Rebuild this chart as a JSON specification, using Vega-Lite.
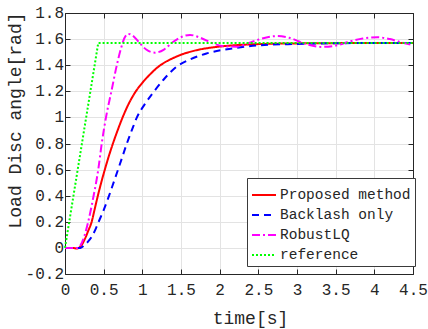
{
  "$schema": "https://vega.github.io/schema/vega-lite/v6.json",
  "width": 348,
  "height": 261,
  "autosize": {"type": "none"},
  "padding": {"left": 65, "top": 13, "right": 15, "bottom": 55},
  "config": {
    "view": {"stroke": "#262626", "strokeWidth": 1},
    "font": "Liberation Mono",
    "axis": {
      "tickSize": -5,
      "tickColor": "#262626",
      "domainColor": "#262626",
      "gridColor": "#e3e3e3",
      "labelFont": "Liberation Mono",
      "labelFontSize": 16,
      "labelColor": "#262626",
      "labelFlush": false,
      "labelOverlap": false,
      "titleFont": "Liberation Mono",
      "titleFontSize": 18,
      "titleFontWeight": "normal",
      "titleColor": "#262626"
    }
  },
  "datasets": {
    "curves": [
      {"s": "Proposed method", "t": 0, "v": 0},
      {"s": "Proposed method", "t": 0.1, "v": 0},
      {"s": "Proposed method", "t": 0.15, "v": -0.004},
      {"s": "Proposed method", "t": 0.2, "v": 0.01},
      {"s": "Proposed method", "t": 0.25, "v": 0.06},
      {"s": "Proposed method", "t": 0.3, "v": 0.13},
      {"s": "Proposed method", "t": 0.345, "v": 0.2},
      {"s": "Proposed method", "t": 0.385, "v": 0.3},
      {"s": "Proposed method", "t": 0.425, "v": 0.4},
      {"s": "Proposed method", "t": 0.468, "v": 0.5},
      {"s": "Proposed method", "t": 0.515, "v": 0.6},
      {"s": "Proposed method", "t": 0.565, "v": 0.7},
      {"s": "Proposed method", "t": 0.62, "v": 0.8},
      {"s": "Proposed method", "t": 0.68, "v": 0.9},
      {"s": "Proposed method", "t": 0.745, "v": 1.0},
      {"s": "Proposed method", "t": 0.82, "v": 1.1},
      {"s": "Proposed method", "t": 0.905, "v": 1.19},
      {"s": "Proposed method", "t": 1.0, "v": 1.265},
      {"s": "Proposed method", "t": 1.1, "v": 1.33},
      {"s": "Proposed method", "t": 1.2, "v": 1.385},
      {"s": "Proposed method", "t": 1.3, "v": 1.425},
      {"s": "Proposed method", "t": 1.4, "v": 1.455},
      {"s": "Proposed method", "t": 1.5, "v": 1.48},
      {"s": "Proposed method", "t": 1.7, "v": 1.515},
      {"s": "Proposed method", "t": 1.96, "v": 1.54},
      {"s": "Proposed method", "t": 2.2, "v": 1.553},
      {"s": "Proposed method", "t": 2.52, "v": 1.562},
      {"s": "Proposed method", "t": 3.0, "v": 1.567},
      {"s": "Proposed method", "t": 3.5, "v": 1.569},
      {"s": "Proposed method", "t": 4.0, "v": 1.57},
      {"s": "Proposed method", "t": 4.5, "v": 1.57},
      {"s": "Backlash only", "t": 0, "v": 0},
      {"s": "Backlash only", "t": 0.1, "v": 0},
      {"s": "Backlash only", "t": 0.2, "v": 0},
      {"s": "Backlash only", "t": 0.25, "v": 0.02},
      {"s": "Backlash only", "t": 0.3, "v": 0.05},
      {"s": "Backlash only", "t": 0.35, "v": 0.09},
      {"s": "Backlash only", "t": 0.4, "v": 0.15},
      {"s": "Backlash only", "t": 0.435, "v": 0.2},
      {"s": "Backlash only", "t": 0.5, "v": 0.29},
      {"s": "Backlash only", "t": 0.57, "v": 0.4},
      {"s": "Backlash only", "t": 0.628, "v": 0.5},
      {"s": "Backlash only", "t": 0.686, "v": 0.6},
      {"s": "Backlash only", "t": 0.743, "v": 0.7},
      {"s": "Backlash only", "t": 0.8, "v": 0.8},
      {"s": "Backlash only", "t": 0.863, "v": 0.9},
      {"s": "Backlash only", "t": 0.93, "v": 1.0},
      {"s": "Backlash only", "t": 1.03, "v": 1.1},
      {"s": "Backlash only", "t": 1.14, "v": 1.19},
      {"s": "Backlash only", "t": 1.29, "v": 1.3},
      {"s": "Backlash only", "t": 1.445, "v": 1.39},
      {"s": "Backlash only", "t": 1.6, "v": 1.44},
      {"s": "Backlash only", "t": 1.83, "v": 1.49},
      {"s": "Backlash only", "t": 2.17, "v": 1.529},
      {"s": "Backlash only", "t": 2.49, "v": 1.552},
      {"s": "Backlash only", "t": 3.0, "v": 1.563},
      {"s": "Backlash only", "t": 3.5, "v": 1.568},
      {"s": "Backlash only", "t": 4.0, "v": 1.57},
      {"s": "Backlash only", "t": 4.5, "v": 1.57},
      {"s": "RobustLQ", "t": 0, "v": 0},
      {"s": "RobustLQ", "t": 0.1, "v": 0},
      {"s": "RobustLQ", "t": 0.17, "v": 0},
      {"s": "RobustLQ", "t": 0.2, "v": 0.02},
      {"s": "RobustLQ", "t": 0.25, "v": 0.09},
      {"s": "RobustLQ", "t": 0.3, "v": 0.2},
      {"s": "RobustLQ", "t": 0.37, "v": 0.4},
      {"s": "RobustLQ", "t": 0.43, "v": 0.6},
      {"s": "RobustLQ", "t": 0.475, "v": 0.8},
      {"s": "RobustLQ", "t": 0.53, "v": 1.0},
      {"s": "RobustLQ", "t": 0.6, "v": 1.2},
      {"s": "RobustLQ", "t": 0.67, "v": 1.4},
      {"s": "RobustLQ", "t": 0.72, "v": 1.52},
      {"s": "RobustLQ", "t": 0.77, "v": 1.61},
      {"s": "RobustLQ", "t": 0.82, "v": 1.64},
      {"s": "RobustLQ", "t": 0.88, "v": 1.625},
      {"s": "RobustLQ", "t": 0.95, "v": 1.58},
      {"s": "RobustLQ", "t": 1.05, "v": 1.52},
      {"s": "RobustLQ", "t": 1.164, "v": 1.496},
      {"s": "RobustLQ", "t": 1.28, "v": 1.52},
      {"s": "RobustLQ", "t": 1.4, "v": 1.58},
      {"s": "RobustLQ", "t": 1.5, "v": 1.615},
      {"s": "RobustLQ", "t": 1.617, "v": 1.632},
      {"s": "RobustLQ", "t": 1.75, "v": 1.61},
      {"s": "RobustLQ", "t": 1.9, "v": 1.57},
      {"s": "RobustLQ", "t": 2.05, "v": 1.545},
      {"s": "RobustLQ", "t": 2.22, "v": 1.542},
      {"s": "RobustLQ", "t": 2.4, "v": 1.575},
      {"s": "RobustLQ", "t": 2.55, "v": 1.605},
      {"s": "RobustLQ", "t": 2.74, "v": 1.623},
      {"s": "RobustLQ", "t": 2.9, "v": 1.61},
      {"s": "RobustLQ", "t": 3.1, "v": 1.565},
      {"s": "RobustLQ", "t": 3.31, "v": 1.54},
      {"s": "RobustLQ", "t": 3.5, "v": 1.55},
      {"s": "RobustLQ", "t": 3.7, "v": 1.585},
      {"s": "RobustLQ", "t": 3.85, "v": 1.605},
      {"s": "RobustLQ", "t": 4.04, "v": 1.614},
      {"s": "RobustLQ", "t": 4.2, "v": 1.6},
      {"s": "RobustLQ", "t": 4.35, "v": 1.575},
      {"s": "RobustLQ", "t": 4.5, "v": 1.554},
      {"s": "reference", "t": 0, "v": 0},
      {"s": "reference", "t": 0.43, "v": 1.5708},
      {"s": "reference", "t": 4.5, "v": 1.5708}
    ],
    "yticks": [
      {"yv": -0.2, "lab": "-0.2"},
      {"yv": 0, "lab": "0"},
      {"yv": 0.2, "lab": "0.2"},
      {"yv": 0.4, "lab": "0.4"},
      {"yv": 0.6, "lab": "0.6"},
      {"yv": 0.8, "lab": "0.8"},
      {"yv": 1, "lab": "1"},
      {"yv": 1.2, "lab": "1.2"},
      {"yv": 1.4, "lab": "1.4"},
      {"yv": 1.6, "lab": "1.6"},
      {"yv": 1.8, "lab": "1.8"}
    ]
  },
  "layer": [
    {
      "data": {"name": "curves"},
      "transform": [{"filter": "datum.s !== 'reference'"}],
      "mark": {"type": "line", "interpolate": "monotone", "strokeWidth": 2},
      "encoding": {
        "x": {
          "field": "t", "type": "quantitative",
          "scale": {"domain": [0, 4.5], "nice": false, "zero": false},
          "axis": {
            "orient": "bottom",
            "values": [0, 0.5, 1, 1.5, 2, 2.5, 3, 3.5, 4, 4.5],
            "format": "~g",
            "labelPadding": 12,
            "labelOverlap": false,
            "title": "time[s]",
            "titleX": 185, "titleY": 49,
            "titleAlign": "center", "titleBaseline": "alphabetic",
            "grid": true
          }
        },
        "y": {
          "field": "v", "type": "quantitative",
          "scale": {"domain": [-0.2, 1.8], "nice": false, "zero": false},
          "axis": {
            "orient": "left",
            "values": [-0.2, 0, 0.2, 0.4, 0.6, 0.8, 1, 1.2, 1.4, 1.6, 1.8],
            "labels": false,
            "title": "Load Disc angle[rad]",
            "titleX": -45, "titleY": 107,
            "titleAngle": -90,
            "titleAlign": "center", "titleBaseline": "alphabetic",
            "grid": true
          }
        },
        "color": {
          "field": "s", "type": "nominal",
          "scale": {"domain": ["Proposed method", "Backlash only", "RobustLQ", "reference"], "range": ["#ff0000", "#0000ff", "#ff00ff", "#00ff00"]},
          "legend": {
            "title": null, "orient": "none", "legendX": 182, "legendY": 165,
            "fillColor": "#ffffff", "strokeColor": "#3a3a3a", "padding": 4,
            "symbolType": "stroke", "symbolSize": 576, "symbolStrokeWidth": 2,
            "labelFont": "Liberation Mono", "labelFontSize": 14.5, "labelColor": "#262626",
            "rowPadding": -3, "labelOffset": 3
          }
        },
        "strokeDash": {
          "field": "s", "type": "nominal",
          "scale": {"domain": ["Proposed method", "Backlash only", "RobustLQ", "reference"], "range": [[1, 0], [7, 5], [8, 3, 2, 3], [2, 2]]},
          "legend": {
            "title": null, "orient": "none", "legendX": 182, "legendY": 165,
            "fillColor": "#ffffff", "strokeColor": "#3a3a3a", "padding": 4,
            "symbolType": "stroke", "symbolSize": 576, "symbolStrokeWidth": 2,
            "labelFont": "Liberation Mono", "labelFontSize": 14.5, "labelColor": "#262626",
            "rowPadding": -3, "labelOffset": 3
          }
        }
      }
    },
    {
      "data": {"name": "curves"},
      "transform": [{"filter": "datum.s === 'reference'"}],
      "mark": {"type": "line", "strokeWidth": 2},
      "encoding": {
        "x": {
          "field": "t", "type": "quantitative",
          "scale": {"domain": [0, 4.5], "nice": false, "zero": false},
          "axis": {
            "orient": "top",
            "values": [0, 0.5, 1, 1.5, 2, 2.5, 3, 3.5, 4, 4.5],
            "labels": false, "title": null, "grid": false
          }
        },
        "y": {
          "field": "v", "type": "quantitative",
          "scale": {"domain": [-0.2, 1.8], "nice": false, "zero": false},
          "axis": {
            "orient": "right",
            "values": [-0.2, 0, 0.2, 0.4, 0.6, 0.8, 1, 1.2, 1.4, 1.6, 1.8],
            "labels": false, "title": null, "grid": false
          }
        },
        "color": {
          "field": "s", "type": "nominal",
          "scale": {"domain": ["Proposed method", "Backlash only", "RobustLQ", "reference"], "range": ["#ff0000", "#0000ff", "#ff00ff", "#00ff00"]}
        },
        "strokeDash": {
          "field": "s", "type": "nominal",
          "scale": {"domain": ["Proposed method", "Backlash only", "RobustLQ", "reference"], "range": [[1, 0], [7, 5], [8, 3, 2, 3], [2, 2]]}
        }
      }
    },
    {
      "data": {"name": "yticks"},
      "mark": {"type": "text", "align": "right", "baseline": "middle", "dx": -1, "font": "Liberation Mono", "fontSize": 16, "color": "#262626"},
      "encoding": {
        "x": {"datum": 0, "type": "quantitative", "axis": null},
        "y": {"field": "yv", "type": "quantitative", "axis": null},
        "text": {"field": "lab", "type": "nominal"}
      }
    }
  ],
  "resolve": {"axis": {"x": "independent", "y": "independent"}}
}
